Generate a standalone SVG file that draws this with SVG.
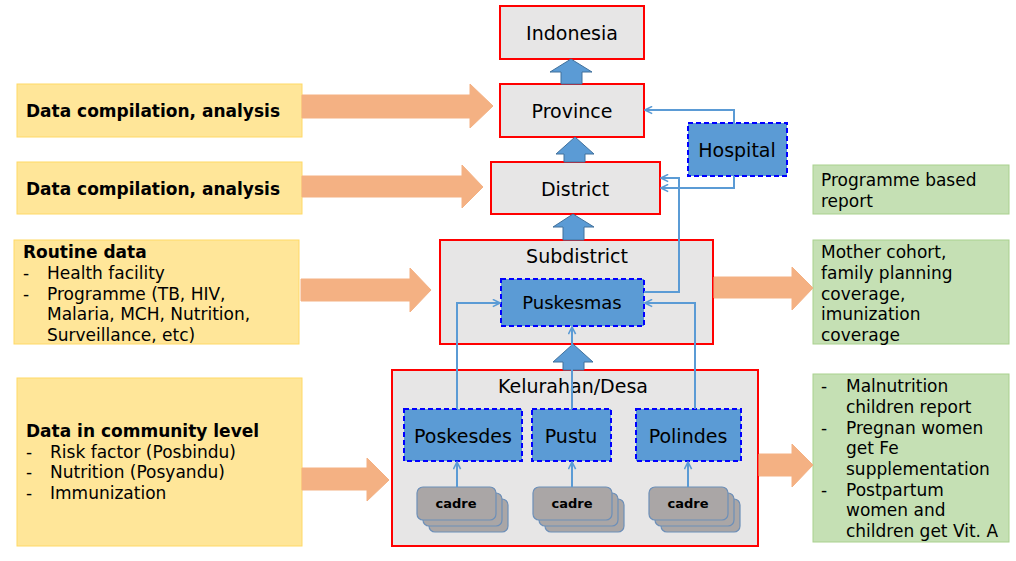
<svg xmlns="http://www.w3.org/2000/svg" width="1016" height="561" viewBox="0 0 1016 561">
<style>
text{font-family:"DejaVu Sans","Noto Sans",sans-serif;fill:#000}
.yel{fill:#ffe699;stroke:#ffd966;stroke-width:1}
.grn{fill:#c5e0b4;stroke:#a9d18e;stroke-width:1}
.lvl{fill:#e7e6e6;stroke:#ff0000;stroke-width:2}
.fac{fill:#5b9bd5;stroke:#0000ff;stroke-width:2;stroke-dasharray:5 3}
.oarr{fill:#f4b183;stroke:#f4b183;stroke-width:1}
.barr{fill:#5b9bd5;stroke:#41719c;stroke-width:1}
.con{fill:none;stroke:#5b9bd5;stroke-width:2;marker-end:url(#ah)}
.cad{fill:#aaa6a6;stroke:#6d8fb8;stroke-width:1.2}
.t17{font-size:17px}
.b17{font-size:17px;font-weight:bold}
.t19{font-size:19px;text-anchor:middle}
.t18{font-size:18px;text-anchor:middle}
.cd{font-size:13px;font-weight:bold;text-anchor:middle}
</style>
<defs>
<marker id="ah" viewBox="0 0 10 10" refX="9" refY="5" markerWidth="9" markerHeight="9" markerUnits="userSpaceOnUse" orient="auto">
<path d="M1,1 L9,5 L1,9" fill="none" stroke="#5b9bd5" stroke-width="1.8"/>
</marker>
<g id="stack">
<rect x="12" y="12" width="79" height="33" rx="6" class="cad"/>
<rect x="6" y="6" width="79" height="33" rx="6" class="cad"/>
<rect x="0" y="0" width="79" height="33" rx="6" class="cad"/>
</g>
</defs>
<rect width="1016" height="561" fill="#ffffff"/>

<!-- left info boxes -->
<g id="info-compilation-province">
<rect x="17" y="84" width="285" height="53" class="yel"/>
<text x="26" y="117" class="b17">Data compilation, analysis</text>
</g>
<g id="info-compilation-district">
<rect x="17" y="162" width="285" height="52" class="yel"/>
<text x="26" y="195" class="b17">Data compilation, analysis</text>
</g>
<g id="info-routine">
<rect x="14" y="240" width="285" height="104" class="yel"/>
<text x="23" y="258" class="b17">Routine data</text>
<text x="23" y="279" class="t17">-</text><text x="47" y="279" class="t17">Health facility</text>
<text x="23" y="300" class="t17">-</text><text x="47" y="300" class="t17">Programme (TB, HIV,</text>
<text x="47" y="320" class="t17">Malaria, MCH, Nutrition,</text>
<text x="47" y="341" class="t17">Surveillance, etc)</text>
</g>
<g id="info-community">
<rect x="17" y="378" width="285" height="168" class="yel"/>
<text x="26" y="437" class="b17">Data in community level</text>
<text x="26" y="458" class="t17">-</text><text x="50" y="458" class="t17">Risk factor (Posbindu)</text>
<text x="26" y="478" class="t17">-</text><text x="50" y="478" class="t17">Nutrition (Posyandu)</text>
<text x="26" y="499" class="t17">-</text><text x="50" y="499" class="t17">Immunization</text>
</g>

<!-- right output boxes -->
<g id="out-programme">
<rect x="813" y="165" width="196" height="49" class="grn"/>
<text x="821" y="186" class="t17">Programme based</text>
<text x="821" y="207" class="t17">report</text>
</g>
<g id="out-subdistrict">
<rect x="813" y="240" width="196" height="104" class="grn"/>
<text x="821" y="258" class="t17">Mother cohort,</text>
<text x="821" y="279" class="t17">family planning</text>
<text x="821" y="300" class="t17">coverage,</text>
<text x="821" y="320" class="t17">imunization</text>
<text x="821" y="341" class="t17">coverage</text>
</g>
<g id="out-community">
<rect x="813" y="374" width="196" height="168" class="grn"/>
<text x="821" y="392" class="t17">-</text><text x="846" y="392" class="t17">Malnutrition</text>
<text x="846" y="413" class="t17">children report</text>
<text x="821" y="434" class="t17">-</text><text x="846" y="434" class="t17">Pregnan women</text>
<text x="846" y="454" class="t17">get Fe</text>
<text x="846" y="475" class="t17">supplementation</text>
<text x="821" y="496" class="t17">-</text><text x="846" y="496" class="t17">Postpartum</text>
<text x="846" y="516" class="t17">women and</text>
<text x="846" y="537" class="t17">children get Vit. A</text>
</g>

<!-- hierarchy levels -->
<g id="indonesia">
<rect x="500" y="6" width="144" height="53" class="lvl"/>
<text x="572" y="40" class="t19">Indonesia</text>
</g>
<g id="province">
<rect x="500" y="84" width="144" height="53" class="lvl"/>
<text x="572" y="118" class="t19">Province</text>
</g>
<g id="district">
<rect x="491" y="162" width="169" height="52" class="lvl"/>
<text x="575" y="196" class="t19">District</text>
</g>
<g id="hospital">
<rect x="688" y="123" width="99" height="53" class="fac"/>
<text x="737" y="157" class="t19">Hospital</text>
</g>
<g id="subdistrict">
<rect x="440" y="240" width="273" height="104" class="lvl"/>
<text x="577" y="263" class="t19">Subdistrict</text>
</g>
<g id="puskesmas">
<rect x="501" y="279" width="143" height="47" class="fac"/>
<text x="572" y="309" class="t18">Puskesmas</text>
</g>
<g id="kelurahan">
<rect x="392" y="370" width="366" height="176" class="lvl"/>
<text x="573" y="393" class="t19">Kelurahan/Desa</text>
</g>
<g id="poskesdes">
<rect x="404" y="409" width="118" height="52" class="fac"/>
<text x="463" y="443" class="t19">Poskesdes</text>
</g>
<g id="pustu">
<rect x="532" y="409" width="79" height="52" class="fac"/>
<text x="571" y="443" class="t19">Pustu</text>
</g>
<g id="polindes">
<rect x="636" y="409" width="105" height="52" class="fac"/>
<text x="688" y="443" class="t19">Polindes</text>
</g>
<g id="cadre-1">
<use href="#stack" x="417" y="487"/>
<text x="456" y="508" class="cd">cadre</text>
</g>
<g id="cadre-2">
<use href="#stack" x="533" y="487"/>
<text x="572" y="508" class="cd">cadre</text>
</g>
<g id="cadre-3">
<use href="#stack" x="649" y="487"/>
<text x="688" y="508" class="cd">cadre</text>
</g>

<!-- connectors -->
<g id="connectors">
<polygon class="oarr" points="302,95 470,95 470,84 493,106 470,128 470,118 302,118"/>
<polygon class="oarr" points="302,176 462,176 462,165 483,187 462,208 462,197 302,197"/>
<polygon class="oarr" points="301,279 410,279 410,268 431,290 410,312 410,301 301,301"/>
<polygon class="oarr" points="302,468 367,468 367,458 389,480 367,501 367,490 302,490"/>
<polygon class="oarr" points="714,277 792,277 792,267 813,288 792,310 792,298 714,298"/>
<polygon class="oarr" points="759,454 792,454 792,444 813,465 792,487 792,476 759,476"/>

<polygon class="barr" points="561,84 561,72 550,72 571,59 592,72 582,72 582,84"/>
<polygon class="barr" points="564,162 564,154 556,154 575,137 594,154 585,154 585,162"/>
<polygon class="barr" points="563,240 563,227 553,227 573,214 594,227 584,227 584,240"/>
<polygon class="barr" points="563,370 563,362 553,362 573,344 593,362 584,362 584,370"/>

<path class="con" d="M734,123 V110 H645"/>
<path class="con" d="M734,176 V188 H661"/>
<path class="con" d="M644,292 H679 V178 H661"/>
<path class="con" d="M457,409 V303 H500"/>
<path class="con" d="M695,409 V303 H645"/>
<path class="con" d="M572,409 V327"/>
<path class="con" d="M457,487 V462"/>
<path class="con" d="M572,487 V462"/>
<path class="con" d="M688,487 V462"/>
</g>
</svg>
